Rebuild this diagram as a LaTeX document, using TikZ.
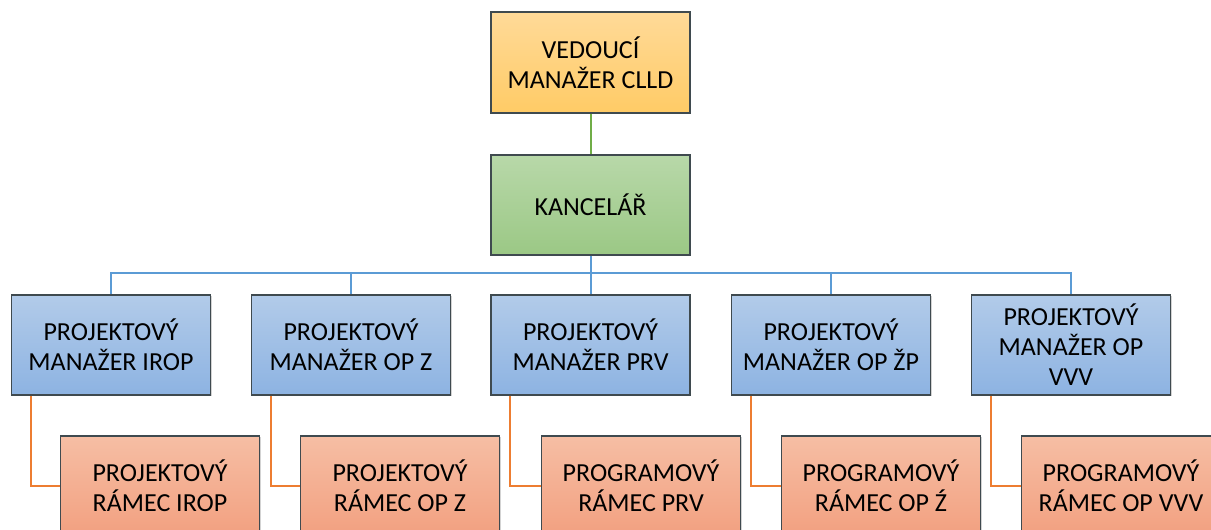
\documentclass[tikz,border=0pt]{standalone}
\usepackage{fontspec}
\setmainfont{Carlito}
\usetikzlibrary{shadows}
\definecolor{ytop}{HTML}{FFDA98}
\definecolor{ybot}{HTML}{FFCB66}
\definecolor{gtop}{HTML}{B8D8A9}
\definecolor{gbot}{HTML}{9BC885}
\definecolor{btop}{HTML}{B2CBE9}
\definecolor{bbot}{HTML}{8DB3E2}
\definecolor{otop}{HTML}{F6BEA4}
\definecolor{obot}{HTML}{F2A080}
\definecolor{gline}{HTML}{70AD47}
\definecolor{bline}{HTML}{5B9BD5}
\definecolor{oline}{HTML}{ED7D31}
\definecolor{edge}{HTML}{3F4A4F}
\begin{document}
\begin{tikzpicture}[x=1pt,y=-1pt,
  box/.style={draw=edge, line width=1.3pt, minimum width=199pt, minimum height=100pt,
    align=center, inner sep=0pt, font=\fontsize{26}{30}\selectfont,
    drop shadow={shadow xshift=1.2pt, shadow yshift=-1.2pt, opacity=0.35}},
  ybox/.style={box, top color=ytop, bottom color=ybot},
  gbox/.style={box, top color=gtop, bottom color=gbot},
  bbox/.style={box, top color=btop, bottom color=bbot},
  obox/.style={box, top color=otop, bottom color=obot},
  gconn/.style={draw=gline, line width=2pt},
  bconn/.style={draw=bline, line width=2pt},
  oconn/.style={draw=oline, line width=2pt},
]
\useasboundingbox (0,0) rectangle (1211,530);
\node[ybox, minimum height=101pt] (ved) at (590.5,62.5) {VEDOUCÍ\\MANAŽER CLLD};
\node[gbox] (kan) at (590.5,205) {KANCELÁŘ};
\node[bbox] (b1) at (111,345) {PROJEKTOVÝ\\MANAŽER IROP};
\node[bbox] (b2) at (351,345) {PROJEKTOVÝ\\MANAŽER OP Z};
\node[bbox] (b3) at (590.5,345) {PROJEKTOVÝ\\MANAŽER PRV};
\node[bbox] (b4) at (831,345) {PROJEKTOVÝ\\MANAŽER OP ŽP};
\node[bbox] (b5) at (1071,345) {PROJEKTOVÝ\\MANAŽER OP\\VVV};
\node[obox] (o1) at (160,486) {PROJEKTOVÝ\\RÁMEC IROP};
\node[obox] (o2) at (400,486) {PROJEKTOVÝ\\RÁMEC OP Z};
\node[obox] (o3) at (641,486) {PROGRAMOVÝ\\RÁMEC PRV};
\node[obox] (o4) at (881,486) {PROGRAMOVÝ\\RÁMEC OP Ź};
\node[obox] (o5) at (1121,486) {PROGRAMOVÝ\\RÁMEC OP VVV};
\coordinate (bus) at (590.5,273);
\draw[gconn] (ved.south) -- (kan.north);
\draw[bconn] (kan.south) -- (bus);
\draw[bconn] (b1.north) -- (b1.north |- bus) -- (b5.north |- bus) -- (b5.north);
\foreach \b in {b2,b3,b4} \draw[bconn] (\b.north) -- (\b.north |- bus);
\foreach \i in {1,...,5} \draw[oconn] ([xshift=20pt]b\i.south west) |- (o\i.west);
\end{tikzpicture}
\end{document}
